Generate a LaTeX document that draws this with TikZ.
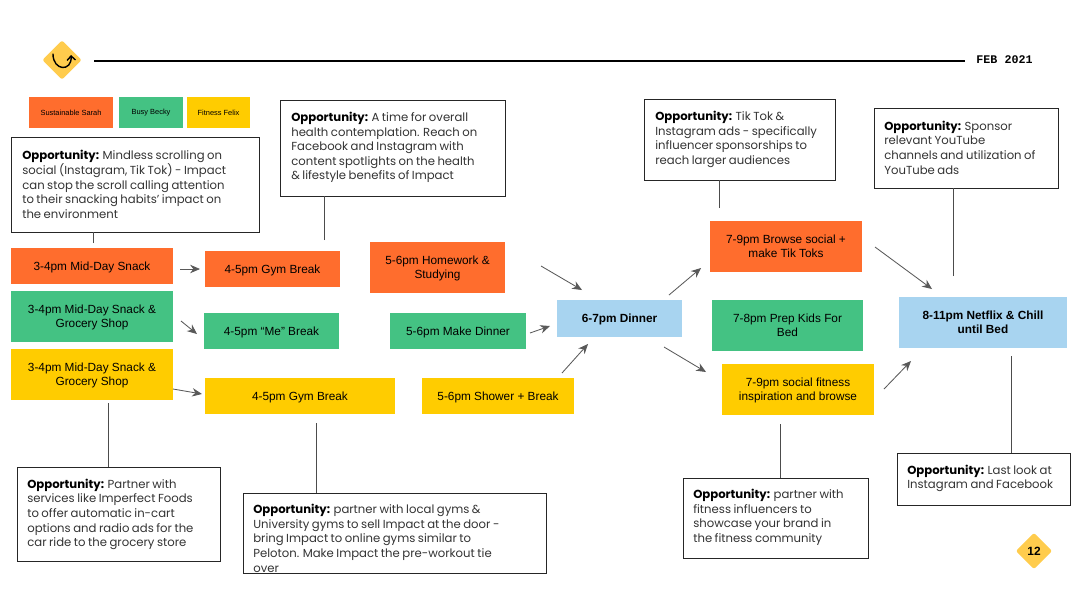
\documentclass[tikz,border=0pt]{standalone}
\usepackage{fontspec}
\setmainfont{Liberation Sans}
\newfontfamily\oppfont[WordSpace=0.8]{Poppins}
\newfontfamily\datefont{Liberation Mono}
\usetikzlibrary{arrows.meta,shapes.geometric}
\newlength\px
\setlength\px{0.025cm}
\definecolor{sarahorange}{HTML}{FF6D2D}
\definecolor{beckygreen}{HTML}{44C283}
\definecolor{felixyellow}{HTML}{FFCC00}
\definecolor{dinnerblue}{HTML}{A8D4F0}
\definecolor{tagyellow}{HTML}{FFCC4D}
\definecolor{oppgrey}{HTML}{333333}
\tikzset{
	flowbox/.style={inner sep=0pt, align=center, text depth=0pt, font=\fontsize{8.4}{10.2}\selectfont},
	sarahbox/.style={flowbox, fill=sarahorange},
	beckybox/.style={flowbox, fill=beckygreen},
	felixbox/.style={flowbox, fill=felixyellow},
	dinnerbox/.style={flowbox, fill=dinnerblue, font=\fontsize{8.4}{10.2}\selectfont\bfseries},
	legendbox/.style={inner sep=0pt, align=center, font=\fontsize{5.3}{7}\selectfont},
	oppframe/.style={draw=black!85, line width=0.55pt, inner sep=0pt},
	opptext/.style={inner sep=0pt, align=left, text=oppgrey, font=\oppfont\fontsize{8.3}{10.4}\selectfont},
	stem/.style={draw=black!70, line width=0.45pt},
	flowarrow/.style={draw=black!65, line width=0.6pt, -{Stealth[length=7pt,width=6pt]}},
	tagdiamond/.style={diamond, fill=tagyellow, draw=tagyellow, line width=3pt, line join=round, inner sep=0pt}
}
\def\opp#1{\textbf{\textcolor{black}{Opportunity:}} #1}
\begin{document}
\begin{tikzpicture}[x=0.025cm, y=-0.025cm]
	%%%%% START %%%%%
	\useasboundingbox (0, 0) rectangle (1080, 608);

	% header
	\node[tagdiamond, minimum width=35\px, minimum height=35\px] (logo) at (62, 60) {};
	\draw[line width=1pt, line cap=round, -{Straight Barb[length=3pt,width=6pt]}] (53, 54) .. controls (53, 71) and (72, 72) .. (71, 55);
	\coordinate (ruleend) at (965, 61);
	\draw[line width=1.4pt] (94, 61) -- (ruleend);
	\node[font=\datefont\fontsize{8.3}{10}\selectfont\bfseries, inner sep=0pt] (date) at (1004.5, 60) {FEB 2021};

	% legend
	\node[legendbox, fill=sarahorange, minimum width=84\px, minimum height=31\px] (sarah) at (71, 112.5) {Sustainable Sarah};
	\node[legendbox, fill=beckygreen, minimum width=64\px, minimum height=31\px] (becky) at (151, 112.5) {Busy Becky};
	\node[legendbox, fill=felixyellow, minimum width=63\px, minimum height=31\px] (felix) at (218.5, 112.5) {Fitness Felix};

	% 3-4pm
	\node[sarahbox, minimum width=162\px, minimum height=36\px] (snacksarah) at (92, 266) {3-4pm Mid-Day Snack};
	\node[beckybox, minimum width=162\px, minimum height=51\px] (snackbecky) at (92, 316.5) {3-4pm Mid-Day Snack \&\\Grocery Shop};
	\node[felixbox, minimum width=162\px, minimum height=51\px] (snackfelix) at (92, 374.5) {3-4pm Mid-Day Snack \&\\Grocery Shop};

	% 4-5pm
	\node[sarahbox, minimum width=135\px, minimum height=36\px] (gymsarah) at (272.5, 269) {4-5pm Gym Break};
	\node[beckybox, minimum width=135\px, minimum height=36\px] (mebecky) at (271.5, 331) {4-5pm “Me” Break};
	\node[felixbox, minimum width=190\px, minimum height=36\px] (gymfelix) at (300, 396) {4-5pm Gym Break};

	% 5-6pm
	\node[sarahbox, minimum width=135\px, minimum height=51\px] (homework) at (437.5, 267.5) {5-6pm Homework \&\\Studying};
	\node[beckybox, minimum width=136\px, minimum height=36\px] (makedinner) at (458, 331) {5-6pm Make Dinner};
	\node[felixbox, minimum width=152\px, minimum height=36\px] (shower) at (498, 396) {5-6pm Shower + Break};

	% dinner and after
	\node[dinnerbox, minimum width=125\px, minimum height=37\px] (dinner) at (619.5, 318.5) {6-7pm Dinner};
	\node[sarahbox, minimum width=152\px, minimum height=51\px] (tiktok) at (786, 246.5) {7-9pm Browse social +\\make Tik Toks};
	\node[beckybox, minimum width=151\px, minimum height=51\px] (prepkids) at (787.5, 325.5) {7-8pm Prep Kids For\\Bed};
	\node[felixbox, minimum width=152\px, minimum height=51\px] (fitness) at (798, 389.5) {7-9pm social fitness\\inspiration and browse};
	\node[dinnerbox, minimum width=168\px, minimum height=51\px] (netflix) at (983, 322.5) {8-11pm Netflix \& Chill\\until Bed};

	% opportunities
	\node[oppframe, minimum width=248\px, minimum height=95\px] (oppsnack) at (135, 184.5) {};
	\node[opptext, anchor=west] (txtsnack) at (22, 184.5) {\opp{Mindless scrolling on}\\social (Instagram, Tik Tok) - Impact\\can stop the scroll calling attention\\to their snacking habits’ impact on\\the environment};
	\node[oppframe, minimum width=225\px, minimum height=96\px] (opphealth) at (392.5, 148) {};
	\node[opptext, anchor=west] (txthealth) at (291, 147.5) {\opp{A time for overall}\\health contemplation. Reach on\\Facebook and Instagram with\\content spotlights on the health\\\& lifestyle benefits of Impact};
	\node[oppframe, minimum width=191\px, minimum height=81\px] (oppads) at (739.5, 139.5) {};
	\node[opptext, anchor=west] (txtads) at (655, 139.5) {\opp{Tik Tok \&}\\Instagram ads - specifically\\influencer sponsorships to\\reach larger audiences};
	\node[oppframe, minimum width=184\px, minimum height=80\px] (oppyoutube) at (966, 148) {};
	\node[opptext, anchor=west] (txtyoutube) at (884, 147.5) {\opp{Sponsor}\\relevant YouTube\\channels and utilization of\\YouTube ads};
	\node[oppframe, minimum width=203\px, minimum height=94\px] (oppgrocery) at (118.5, 514) {};
	\node[opptext, anchor=west] (txtgrocery) at (27, 514.5) {\opp{Partner with}\\services like Imperfect Foods\\to offer automatic in-cart\\options and radio ads for the\\car ride to the grocery store};
	\begin{scope}
		\clip (243, 493) rectangle (546, 573);
		\node[opptext, anchor=north west] (txtgyms) at (253, 504) {\opp{partner with local gyms \&}\\University gyms to sell Impact at the door -\\bring Impact to online gyms similar to\\Peloton. Make Impact the pre-workout tie\\over};
	\end{scope}
	\node[oppframe, minimum width=303\px, minimum height=80\px] (oppgyms) at (394.5, 533) {};
	\node[oppframe, minimum width=185\px, minimum height=80\px] (oppinfluencer) at (775.5, 518) {};
	\node[opptext, anchor=west] (txtinfluencer) at (693, 517.5) {\opp{partner with}\\fitness influencers to\\showcase your brand in\\the fitness community};
	\node[oppframe, minimum width=173\px, minimum height=52\px] (opplast) at (983.5, 479) {};
	\node[opptext, anchor=west] (txtlast) at (907, 478.5) {\opp{Last look at}\\Instagram and Facebook};

	% stems, the free ends stop short of the boxes
	\coordinate (stemsnack) at (93, 243);
	\coordinate (stemhealth) at (324, 240);
	\coordinate (stemads) at (719, 208);
	\coordinate (stemyoutube) at (953, 276);
	\coordinate (stemgrocery) at (108, 403);
	\coordinate (stemgyms) at (316, 423);
	\coordinate (steminfluencer) at (780, 424);
	\coordinate (stemlast) at (1011, 356);
	\draw[stem] (stemsnack) -- (stemsnack |- oppsnack.south);
	\draw[stem] (stemhealth) -- (stemhealth |- opphealth.south);
	\draw[stem] (stemads) -- (stemads |- oppads.south);
	\draw[stem] (stemyoutube) -- (stemyoutube |- oppyoutube.south);
	\draw[stem] (stemgrocery) -- (stemgrocery |- oppgrocery.north);
	\draw[stem] (stemgyms) -- (stemgyms |- oppgyms.north);
	\draw[stem] (steminfluencer) -- (steminfluencer |- oppinfluencer.north);
	\draw[stem] (stemlast) -- (stemlast |- opplast.north);

	% arrows, none of them touches a box
	\draw[flowarrow] (180, 269) -- (200, 269);
	\draw[flowarrow] (181, 321) -- (197, 334);
	\draw[flowarrow] (173, 389) -- (202, 394);
	\draw[flowarrow] (541, 266) -- (582, 290);
	\draw[flowarrow] (530, 333) -- (550, 326);
	\draw[flowarrow] (562, 373) -- (588, 344);
	\draw[flowarrow] (669, 295) -- (701, 268);
	\draw[flowarrow] (664, 347) -- (706, 372);
	\draw[flowarrow] (875, 247) -- (932, 289);
	\draw[flowarrow] (884, 389) -- (911, 361);

	% page number
	\node[tagdiamond, minimum width=32\px, minimum height=32\px, font=\fontsize{8.5}{10}\selectfont\bfseries] (pagenum) at (1034, 551) {12};
	%%%%% END %%%%%
\end{tikzpicture}
\end{document}
